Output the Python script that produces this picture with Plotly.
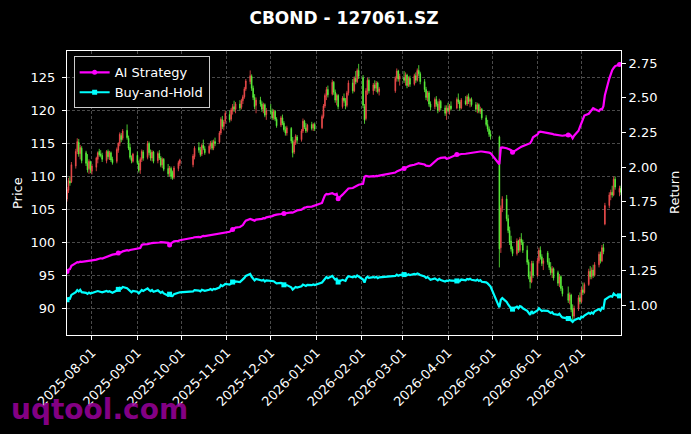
import pandas as pd
import plotly.graph_objects as go

# ---------------- data ----------------
title_text = "CBOND - 127061.SZ"
holidays = ["2025-10-01", "2025-10-02", "2025-10-03", "2025-10-06", "2025-10-07", "2025-10-08",
            "2026-01-01", "2026-01-02",
            "2026-02-16", "2026-02-17", "2026-02-18", "2026-02-19", "2026-02-20", "2026-02-23",
            "2026-04-06", "2026-05-01", "2026-05-04", "2026-05-05", "2026-06-19"]
first_day, last_day = "2025-07-15", "2026-07-28"

price_open = [
    106.6, 107.9, 109.3, 109.2, 111.6, 113.8, 115.2, 113.5, 114.3, 113.6, 112.0, 111.2, 112.2,
    110.8, 111.4, 112.6, 113.8, 113.4, 113.2, 112.4, 113.8, 113.0, 113.6, 112.6, 112.3, 114.0, 115.0, 116.2, 115.8, 117.0, 115.8, 114.4, 112.8, 112.3,
    113.2, 112.0, 111.0, 112.6, 113.7, 112.9, 115.0, 113.6, 112.8, 113.7, 112.4, 113.5, 112.8, 111.8, 112.6, 111.2, 110.5, 111.2, 110.6, 109.9, 111.2, 112.0,
    111.8, 113.0, 114.4, 114.0, 113.4, 114.8, 114.2, 113.6, 114.6, 115.1, 114.3, 115.3, 115.2, 116.6, 118.6, 117.6, 118.4,
    119.4, 118.7, 120.0, 120.6, 120.2, 121.0, 120.5, 121.5, 122.1, 123.3, 124.4, 125.2, 123.4, 122.0, 120.8, 121.6, 121.0, 120.2, 120.9, 119.4,
    120.0, 119.8, 118.9, 119.9, 118.7, 117.8, 118.9, 118.1, 117.1, 116.6, 117.3, 115.4, 113.7, 115.2, 116.0, 115.6, 116.9, 118.4, 117.4, 117.0, 117.9, 117.4, 117.9,
    117.4, 119.1, 120.7, 122.3, 123.2, 122.5, 124.3, 122.8, 121.6, 122.3, 120.6, 121.9, 121.5, 120.8, 122.7, 124.2, 123.0, 124.9, 124.4, 126.1,
    125.0, 120.6, 118.8, 123.0, 124.6, 123.0, 123.9, 123.4, 124.2, 122.9, 123.0, 124.9, 126.0, 124.8,
    125.0, 124.6, 125.4, 123.8, 124.9, 124.0, 125.3, 124.6, 126.1, 125.6, 124.4, 123.2, 122.0, 122.7, 121.0, 120.6, 121.7, 121.0, 120.1, 121.4, 120.4, 119.6,
    120.4, 120.0, 120.7, 120.4, 121.7, 121.3, 120.4, 121.5, 121.0, 122.1, 121.4, 121.7, 120.9, 120.2, 120.9, 119.9, 120.2, 118.9, 117.9, 117.2, 116.4,
    116.0, 99.2, 105.2, 106.6, 103.6, 101.8, 100.2, 99.0, 98.3, 100.2, 98.8, 100.5, 100.0, 98.8, 97.0, 94.8, 94.0, 96.8,
    95.0, 97.2, 98.8, 97.8, 96.8, 98.4, 97.0, 96.2, 95.4, 96.0, 95.4, 93.8, 94.8, 93.0, 92.2, 91.2, 92.0, 89.8, 88.8, 90.0, 91.6,
    91.0, 92.8, 92.4, 93.6, 95.6, 94.8, 95.8, 95.0, 96.6, 98.2, 97.2, 99.2, 102.8, 105.6, 107.2, 107.6, 107.2, 109.6, 107.6, 108.2,
]
price_high = [
    108.4, 109.8, 110.0, 112.2, 114.2, 115.8, 115.7, 114.8, 114.6, 113.9, 113.4, 112.6, 112.4,
    111.9, 113.0, 113.8, 114.2, 114.0, 113.6, 114.0, 114.1, 113.9, 113.8, 113.0, 114.4, 115.2, 116.7, 116.6, 117.2, 117.9, 116.2, 115.0, 113.2, 113.6,
    113.8, 112.4, 112.9, 114.1, 114.0, 115.4, 115.3, 114.1, 114.0, 113.9, 113.8, 114.0, 113.1, 112.9, 112.8, 111.9, 111.6, 111.5, 110.9, 111.6, 112.4, 112.7,
    113.4, 114.6, 115.2, 114.5, 115.0, 115.6, 114.6, 114.9, 115.4, 115.5, 115.6, 115.9, 116.9, 119.0, 119.2, 118.6, 120.0,
    120.0, 120.4, 121.0, 121.5, 121.3, 121.6, 121.8, 122.4, 123.6, 124.8, 126.1, 125.5, 123.8, 122.5, 122.0, 122.1, 121.4, 121.2, 121.1, 120.4,
    121.0, 120.3, 120.2, 120.1, 119.0, 119.2, 119.4, 118.4, 117.6, 117.7, 117.5, 116.0, 115.6, 116.4, 116.3, 117.2, 118.8, 118.6, 118.1, 118.0, 118.3, 118.1, 118.2,
    119.4, 121.0, 122.6, 123.6, 123.8, 124.7, 124.5, 123.2, 122.6, 122.5, 122.2, 122.6, 121.9, 123.0, 124.6, 124.8, 125.2, 126.0, 126.4, 127.1,
    125.4, 121.0, 123.4, 125.0, 124.9, 124.2, 124.6, 124.5, 124.4, 123.6, 125.2, 126.4, 126.2, 125.6,
    126.0, 125.8, 125.6, 125.2, 125.3, 125.6, 125.8, 126.4, 126.9, 125.9, 124.8, 123.6, 123.0, 123.0, 121.4, 122.0, 122.2, 121.4, 121.8, 121.6, 120.8, 120.8,
    121.2, 121.0, 121.4, 122.0, 122.6, 121.6, 121.9, 122.2, 122.4, 122.6, 121.9, 122.0, 121.3, 121.2, 121.1, 120.6, 120.4, 119.3, 118.6, 117.6, 117.0,
    116.2, 105.6, 107.0, 107.2, 104.2, 102.4, 101.0, 99.4, 100.6, 100.4, 100.8, 101.4, 100.4, 99.5, 97.4, 95.6, 97.2, 97.2,
    97.6, 99.2, 99.4, 98.2, 97.6, 98.7, 97.6, 97.0, 96.4, 96.2, 95.7, 95.2, 95.0, 93.4, 93.3, 92.4, 92.2, 90.6, 90.4, 92.0, 92.4,
    93.2, 93.9, 93.9, 96.0, 96.4, 96.2, 96.6, 97.0, 98.6, 98.6, 99.6, 99.8, 106.0, 107.6, 108.0, 108.6, 110.0, 110.0, 108.6, 108.6,
]
price_low = [
    106.2, 107.5, 108.6, 109.0, 111.2, 113.4, 113.0, 112.6, 112.0, 111.6, 110.6, 110.4, 110.5,
    110.3, 110.8, 112.0, 113.0, 112.9, 112.2, 112.0, 112.6, 112.5, 112.2, 111.8, 112.0, 113.6, 114.6, 115.2, 115.5, 115.6, 114.0, 112.6, 112.0, 112.1,
    111.8, 110.6, 110.4, 112.2, 112.4, 112.6, 113.2, 112.4, 112.3, 112.0, 112.0, 112.5, 111.4, 111.3, 110.8, 110.0, 110.0, 109.6, 109.5, 109.6, 110.8, 111.6,
    111.4, 112.6, 113.6, 113.0, 113.1, 114.0, 113.3, 113.4, 114.1, 114.0, 114.0, 114.6, 115.0, 116.3, 117.2, 117.0, 118.0,
    118.2, 118.4, 119.4, 119.8, 119.6, 120.0, 120.2, 121.0, 121.8, 123.0, 124.0, 123.0, 121.6, 120.2, 119.6, 120.6, 119.8, 119.6, 119.0, 118.6,
    119.4, 118.6, 118.6, 118.4, 117.4, 117.5, 117.8, 116.8, 116.2, 116.2, 115.0, 112.9, 113.4, 114.8, 115.0, 115.3, 116.6, 117.2, 116.6, 116.7, 117.0, 116.9, 116.9,
    117.2, 118.8, 120.4, 121.6, 122.0, 122.3, 122.4, 121.2, 120.8, 120.2, 120.3, 121.2, 120.2, 120.5, 122.3, 122.6, 122.8, 124.0, 124.2, 124.8,
    120.4, 118.0, 118.5, 122.4, 122.6, 122.4, 123.0, 122.8, 122.6, 122.3, 122.7, 124.4, 124.4, 123.8,
    124.2, 123.8, 123.4, 123.6, 123.6, 123.8, 124.2, 124.4, 125.2, 124.0, 122.8, 121.6, 121.4, 120.6, 120.0, 120.2, 120.6, 119.6, 119.8, 120.0, 119.2, 118.6,
    119.8, 119.4, 120.0, 120.2, 121.0, 120.0, 120.2, 120.8, 120.7, 121.0, 120.5, 120.6, 119.8, 119.6, 119.6, 119.5, 118.6, 117.6, 116.8, 116.0, 115.6,
    96.2, 98.4, 104.6, 103.2, 101.4, 99.6, 98.6, 97.9, 98.0, 98.4, 98.5, 99.6, 98.4, 96.6, 94.4, 93.0, 93.8, 94.6,
    94.8, 96.8, 97.4, 96.4, 95.8, 96.6, 95.8, 95.0, 94.6, 94.2, 93.4, 93.2, 92.6, 91.8, 90.8, 90.6, 89.4, 88.2, 88.4, 89.6, 90.6,
    90.8, 92.0, 92.2, 93.4, 94.4, 94.4, 94.6, 94.8, 96.2, 96.8, 97.0, 98.2, 102.6, 105.2, 106.4, 106.8, 107.0, 108.0, 107.0, 107.2,
]
price_close = [
    108.0, 109.4, 109.0, 111.8, 113.8, 115.3, 113.4, 114.4, 112.4, 112.0, 111.0, 112.3, 111.0,
    111.6, 112.8, 113.6, 113.3, 113.2, 112.6, 113.8, 113.0, 113.6, 112.5, 112.1, 114.1, 115.0, 116.4, 115.6, 116.9, 115.9, 114.3, 112.9, 112.4, 113.4,
    112.1, 110.9, 112.6, 113.8, 112.8, 115.0, 113.6, 112.8, 113.7, 112.3, 113.5, 112.8, 111.7, 112.6, 111.1, 110.4, 111.3, 110.0, 109.8, 111.3, 112.1, 112.5,
    113.1, 114.3, 114.0, 113.3, 114.7, 114.3, 113.6, 114.6, 115.1, 114.3, 115.3, 115.0, 116.6, 118.7, 117.6, 118.3, 119.6,
    118.6, 120.1, 120.6, 120.2, 121.0, 120.4, 121.5, 122.1, 123.3, 124.5, 125.3, 123.4, 122.0, 120.6, 121.6, 121.0, 120.2, 120.9, 119.3, 120.0,
    119.8, 118.9, 119.9, 118.7, 117.7, 118.9, 118.1, 117.1, 116.6, 117.4, 115.4, 113.6, 115.2, 116.1, 115.5, 116.9, 118.4, 117.5, 116.9, 117.8, 117.3, 117.9, 117.2,
    119.1, 120.7, 122.3, 123.2, 122.4, 124.3, 122.8, 121.6, 122.3, 120.6, 121.9, 121.5, 120.7, 122.7, 124.2, 123.0, 124.9, 124.4, 126.1, 125.2,
    120.8, 118.6, 123.0, 124.6, 123.0, 123.9, 123.4, 124.2, 122.9, 123.3, 124.9, 126.0, 124.8, 125.2,
    124.6, 125.4, 123.8, 124.9, 124.0, 125.3, 124.6, 126.1, 125.6, 124.4, 123.2, 122.0, 122.7, 121.0, 120.5, 121.7, 121.0, 120.0, 121.4, 120.4, 119.6, 120.4,
    120.0, 120.7, 120.3, 121.7, 121.3, 120.4, 121.6, 121.0, 122.1, 121.4, 121.7, 120.9, 120.2, 120.9, 119.9, 120.2, 118.9, 117.9, 117.2, 116.4, 116.1,
    99.0, 105.2, 106.6, 103.6, 101.8, 100.0, 99.0, 98.3, 100.2, 98.8, 100.5, 100.0, 98.8, 97.0, 94.8, 94.0, 96.8, 95.0,
    97.2, 98.8, 97.8, 96.8, 97.2, 97.0, 96.2, 95.4, 96.0, 94.6, 93.8, 94.8, 93.0, 92.2, 91.2, 92.0, 89.8, 88.8, 90.0, 91.6, 91.0,
    92.8, 92.4, 93.6, 95.6, 94.8, 95.8, 95.0, 96.6, 98.2, 97.2, 99.2, 98.6, 105.6, 107.2, 107.6, 107.2, 109.6, 108.4, 108.2, 107.6,
]
ai_strategy = [
    1.245, 1.258, 1.262, 1.285, 1.305, 1.312, 1.310, 1.316, 1.314, 1.318, 1.316, 1.320, 1.322,
    1.325, 1.330, 1.334, 1.336, 1.340, 1.338, 1.352, 1.356, 1.360, 1.362, 1.366, 1.372, 1.378, 1.384, 1.382, 1.390, 1.398, 1.395, 1.400, 1.402, 1.404,
    1.408, 1.410, 1.414, 1.436, 1.440, 1.442, 1.446, 1.448, 1.450, 1.452, 1.450, 1.454, 1.456, 1.458, 1.455, 1.452, 1.436, 1.448, 1.458, 1.462, 1.466, 1.470,
    1.488, 1.492, 1.494, 1.492, 1.498, 1.502, 1.500, 1.505, 1.510, 1.508, 1.512, 1.514, 1.516, 1.522, 1.520, 1.524, 1.528,
    1.532, 1.540, 1.548, 1.556, 1.562, 1.566, 1.572, 1.580, 1.598, 1.612, 1.624, 1.618, 1.615, 1.612, 1.620, 1.622, 1.625, 1.630, 1.628, 1.636,
    1.640, 1.645, 1.650, 1.654, 1.656, 1.660, 1.662, 1.664, 1.666, 1.668, 1.672, 1.670, 1.676, 1.682, 1.686, 1.692, 1.700, 1.706, 1.708, 1.712, 1.714, 1.718, 1.720,
    1.740, 1.770, 1.795, 1.805, 1.802, 1.810, 1.806, 1.800, 1.806, 1.770, 1.800, 1.812, 1.818, 1.830, 1.845, 1.848, 1.855, 1.860, 1.866, 1.872,
    1.878, 1.930, 1.936, 1.934, 1.930, 1.934, 1.932, 1.936, 1.934, 1.938, 1.960, 1.968, 1.972, 1.978,
    1.990, 1.996, 2.000, 2.006, 2.010, 2.016, 2.020, 2.026, 2.028, 2.024, 2.018, 2.010, 2.008, 2.006, 2.010, 2.040, 2.052, 2.058, 2.062, 2.066, 2.070, 2.060,
    2.062, 2.066, 2.070, 2.090, 2.088, 2.092, 2.094, 2.096, 2.098, 2.100, 2.102, 2.104, 2.106, 2.108, 2.110, 2.112, 2.112, 2.110, 2.108, 2.104, 2.100,
    2.020, 2.140, 2.142, 2.136, 2.130, 2.126, 2.122, 2.106, 2.130, 2.134, 2.140, 2.146, 2.150, 2.160, 2.164, 2.172, 2.190, 2.215,
    2.235, 2.252, 2.256, 2.254, 2.252, 2.250, 2.246, 2.244, 2.240, 2.236, 2.232, 2.230, 2.228, 2.226, 2.232, 2.234, 2.226, 2.208, 2.226, 2.262, 2.290,
    2.318, 2.345, 2.372, 2.385, 2.398, 2.410, 2.426, 2.420, 2.404, 2.418, 2.416, 2.440, 2.520, 2.640, 2.672, 2.700, 2.716, 2.730, 2.742, 2.748,
]
buy_and_hold = [
    1.040, 1.050, 1.048, 1.075, 1.095, 1.110, 1.100, 1.112, 1.095, 1.090, 1.082, 1.092, 1.085,
    1.088, 1.096, 1.103, 1.100, 1.099, 1.094, 1.104, 1.097, 1.102, 1.094, 1.090, 1.107, 1.115, 1.126, 1.120, 1.132, 1.124, 1.112, 1.098, 1.094, 1.104,
    1.098, 1.086, 1.100, 1.110, 1.103, 1.122, 1.110, 1.102, 1.110, 1.098, 1.108, 1.101, 1.090, 1.098, 1.086, 1.070, 1.080, 1.068, 1.066, 1.080, 1.090, 1.094,
    1.100, 1.110, 1.106, 1.100, 1.112, 1.108, 1.104, 1.112, 1.118, 1.110, 1.118, 1.115, 1.128, 1.146, 1.138, 1.145, 1.155,
    1.150, 1.162, 1.168, 1.165, 1.172, 1.168, 1.176, 1.184, 1.198, 1.212, 1.226, 1.206, 1.192, 1.180, 1.190, 1.184, 1.178, 1.184, 1.172, 1.180,
    1.176, 1.170, 1.174, 1.166, 1.158, 1.162, 1.156, 1.148, 1.142, 1.146, 1.130, 1.114, 1.124, 1.132, 1.128, 1.138, 1.150, 1.146, 1.140, 1.148, 1.145, 1.150, 1.146,
    1.165, 1.178, 1.192, 1.204, 1.196, 1.212, 1.198, 1.186, 1.192, 1.168, 1.184, 1.182, 1.176, 1.198, 1.210, 1.202, 1.210, 1.204, 1.216, 1.208,
    1.186, 1.164, 1.196, 1.206, 1.198, 1.204, 1.200, 1.206, 1.196, 1.202, 1.212, 1.222, 1.214, 1.218,
    1.222, 1.226, 1.218, 1.224, 1.218, 1.226, 1.222, 1.230, 1.226, 1.218, 1.208, 1.198, 1.204, 1.190, 1.184, 1.194, 1.188, 1.180, 1.190, 1.182, 1.172, 1.178,
    1.176, 1.182, 1.178, 1.176, 1.182, 1.174, 1.186, 1.180, 1.190, 1.186, 1.192, 1.184, 1.178, 1.186, 1.176, 1.182, 1.170, 1.166, 1.158, 1.148, 1.135,
    0.985, 1.040, 1.052, 1.024, 1.006, 0.990, 0.978, 0.972, 0.990, 0.978, 0.994, 0.990, 0.978, 0.960, 0.940, 0.930, 0.958, 0.942,
    0.962, 0.978, 0.968, 0.958, 0.962, 0.960, 0.952, 0.945, 0.950, 0.936, 0.930, 0.938, 0.922, 0.912, 0.904, 0.910, 0.890, 0.880, 0.892, 0.906, 0.900,
    0.918, 0.914, 0.926, 0.946, 0.938, 0.948, 0.940, 0.956, 0.972, 0.962, 0.982, 0.976, 1.040, 1.062, 1.066, 1.062, 1.084, 1.074, 1.068, 1.062,
]
price_ticks = [90, 95, 100, 105, 110, 115, 120, 125]
return_ticks = [1.00, 1.25, 1.50, 1.75, 2.00, 2.25, 2.50, 2.75]
month_ticks = ["2025-08-01", "2025-09-01", "2025-10-01", "2025-11-01", "2025-12-01", "2026-01-01",
               "2026-02-01", "2026-03-01", "2026-04-01", "2026-05-01", "2026-06-01", "2026-07-01"]
marker_step = 25

# ---------------- build ----------------
days = pd.bdate_range(first_day, last_day)
days = days[~days.isin(pd.to_datetime(holidays))]
n = len(days)
for name, arr in [("open", price_open), ("high", price_high), ("low", price_low), ("close", price_close),
                  ("ai", ai_strategy), ("bh", buy_and_hold)]:
    assert len(arr) == n, f"{name}: {len(arr)} != {n}"

FONT = "DejaVu Sans"
RED, GREEN = "#f24d4d", "#5cf53c"
MAG, CYA = "#ff00ff", "#00ffff"

fig = go.Figure()
fig.add_trace(go.Candlestick(
    x=days, open=price_open, high=price_high, low=price_low, close=price_close,
    increasing=dict(line=dict(color=RED, width=0.8), fillcolor=RED),
    decreasing=dict(line=dict(color=GREEN, width=0.8), fillcolor=GREEN),
    whiskerwidth=0, showlegend=False, xaxis="x", yaxis="y", name="Price"))

mk = list(range(0, n, marker_step))
for name, vals, col, sym in [("AI Strategy", ai_strategy, MAG, "circle"),
                             ("Buy-and-Hold", buy_and_hold, CYA, "square")]:
    fig.add_trace(go.Scatter(x=days, y=vals, mode="lines", line=dict(color=col, width=2.2),
                             showlegend=False, yaxis="y2", name=name))
    fig.add_trace(go.Scatter(x=[days[i] for i in mk], y=[vals[i] for i in mk], mode="markers",
                             marker=dict(color=col, size=5, symbol=sym), showlegend=False,
                             yaxis="y2", name=name))
    fig.add_trace(go.Scatter(x=[None], y=[None], mode="lines+markers", name=name,
                             line=dict(color=col, width=2.2),
                             marker=dict(color=col, size=5, symbol=sym), yaxis="y2"))

grid = dict(gridcolor="#4a4a4a", griddash="3px,2px", gridwidth=0.8)
fig.update_layout(
    width=691, height=434,
    margin=dict(l=67, r=70, t=51, b=99),
    paper_bgcolor="black", plot_bgcolor="black",
    font=dict(family=FONT, color="white", size=13),
    title=dict(text="<b>" + title_text + "</b>", x=0.5, xref="paper", y=1 - 18 / 434,
               yref="container", yanchor="middle", xanchor="center",
               font=dict(size=17, color="white", family=FONT)),
    xaxis=dict(type="date", range=["2025-07-15 00:00", "2026-07-28 00:00"],
               tickvals=month_ticks, tickformat="%Y-%m-%d", tickangle=-45,
               ticks="outside", ticklen=4, tickcolor="white", tickwidth=1,
               showline=True, linecolor="white", linewidth=1, mirror=True,
               rangeslider=dict(visible=False), showgrid=True, zeroline=False,
               tickfont=dict(size=13, color="white"), **grid),
    yaxis=dict(range=[85.94, 129.05], tickvals=price_ticks, ticks="outside", ticklen=4,
               tickcolor="white", showline=True, linecolor="white", linewidth=1,
               ticklabelstandoff=4,
               showgrid=True, zeroline=False, tickfont=dict(size=13, color="white"), **grid),
    yaxis2=dict(range=[0.785, 2.839], tickvals=return_ticks, tickformat=".2f",
                overlaying="y", side="right", anchor="x", ticks="outside", ticklen=4,
                tickcolor="white", showline=True, linecolor="white", linewidth=1,
                showgrid=False, zeroline=False, tickfont=dict(size=13, color="white")),
    legend=dict(x=0.012, y=0.981, xanchor="left", yanchor="top", bgcolor="black",
                bordercolor="#cccccc", borderwidth=1, font=dict(size=13, color="white"),
                itemwidth=30, tracegroupgap=0),
    showlegend=True,
)
fig.add_annotation(text="Price", x=17, y=193, xref="paper", yref="paper", showarrow=False,
                   xanchor="center", yanchor="middle",
                   textangle=-90, font=dict(size=13, color="white", family=FONT))
fig.add_annotation(text="Return", x=674, y=193, xref="paper", yref="paper", showarrow=False,
                   xanchor="center", yanchor="middle",
                   textangle=-90, font=dict(size=13, color="white", family=FONT))
fig.add_annotation(text="<b>uqtool.com</b>", x=9, y=409, xref="paper", yref="paper",
                   xanchor="left", yanchor="middle", showarrow=False,
                   font=dict(size=28, color="rgba(150,0,150,0.9)", family=FONT))

# annotations above were given in pixel positions; convert to paper fractions
pw, ph = 691 - 67 - 70, 434 - 51 - 99
for a in fig.layout.annotations:
    a.x = (a.x - 67) / pw
    a.y = 1 - (a.y - 51) / ph

fig.write_html("out.html", config={"displayModeBar": False},
               post_script="document.body.style.margin='0';")
